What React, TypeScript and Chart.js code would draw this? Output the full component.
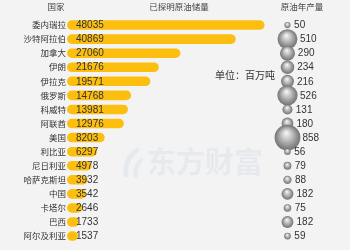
import React, { useEffect, useRef } from "react";
import { Chart, registerables } from "chart.js";

Chart.register(...registerables);

const countries = ["委内瑞拉", "沙特阿拉伯", "加拿大", "伊朗", "伊拉克", "俄罗斯", "科威特", "阿联酋", "美国", "利比亚", "尼日利亚", "哈萨克斯坦", "中国", "卡塔尔", "巴西", "阿尔及利亚"];
const reserves = [48035, 40869, 27060, 21676, 19571, 14768, 13981, 12976, 8203, 6297, 4978, 3932, 3542, 2646, 1733, 1537];
const production = [50, 510, 290, 234, 216, 526, 131, 180, 858, 56, 79, 88, 182, 75, 182, 59];

const headerCountry = "国家";
const headerReserves = "已探明原油储量";
const headerProduction = "原油年产量";
const unitText = "单位：百万吨";
const watermark = "东方财富";

const CJK = '"Noto Sans CJK SC", "Noto Sans", sans-serif';
const NUM = '"Liberation Sans", Arial, sans-serif';

const radiusOf = (v: number) => 0.44 * Math.sqrt(v);

export default function App() {
  const ref = useRef<HTMLCanvasElement | null>(null);

  useEffect(() => {
    const canvas = ref.current;
    if (!canvas) return;

    const bgPlugin = {
      id: "bg",
      beforeDraw(chart: any) {
        const { ctx, width, height } = chart;
        ctx.save();
        ctx.fillStyle = "#f3f3f3";
        ctx.fillRect(0, 0, width, height);
        ctx.restore();
      },
      beforeDatasetsDraw(chart: any) {
        const { ctx } = chart;
        ctx.save();
        ctx.fillStyle = "#e6eaee";
        ctx.strokeStyle = "#e6eaee";
        // simple logo swoosh
        ctx.lineCap = "round";
        ctx.lineWidth = 5;
        ctx.beginPath();
        ctx.moveTo(137, 150);
        ctx.quadraticCurveTo(124, 160, 126, 175);
        ctx.stroke();
        ctx.lineWidth = 4;
        ctx.beginPath();
        ctx.moveTo(141, 160);
        ctx.quadraticCurveTo(134, 168, 136, 176);
        ctx.stroke();
        ctx.font = `bold 29px ${CJK}`;
        ctx.textAlign = "left";
        ctx.textBaseline = "middle";
        ctx.fillText(watermark, 147, 162);
        ctx.restore();
      },
      afterDatasetsDraw(chart: any) {
        const { ctx, chartArea } = chart;
        ctx.save();
        ctx.textBaseline = "middle";
        const barMeta = chart.getDatasetMeta(0);
        ctx.fillStyle = "#333333";
        ctx.font = `10px ${NUM}`;
        ctx.textAlign = "left";
        barMeta.data.forEach((el: any, i: number) => {
          ctx.fillText(String(reserves[i]), chartArea.left + 9, el.y + 0.5);
        });
        const bubMeta = chart.getDatasetMeta(1);
        bubMeta.data.forEach((el: any, i: number) => {
          const r = radiusOf(production[i]);
          ctx.fillText(String(production[i]), el.x + 4 + 0.85 * r, el.y + 0.5);
        });
        ctx.fillStyle = "#444444";
        ctx.font = `8.5px ${CJK}`;
        ctx.textAlign = "center";
        ctx.fillText(headerCountry, 56, 7);
        ctx.fillText(headerReserves, 179, 7);
        ctx.fillText(headerProduction, 302, 7);
        ctx.fillStyle = "#333333";
        ctx.font = `10px ${CJK}`;
        ctx.fillText(unitText, 245, 75);
        ctx.restore();
      },
    };

    const bubbleFill = (c: any) => {
      const chart = c.chart;
      const xs = chart.scales.x2;
      const ys = chart.scales.y;
      if (!xs || !ys || c.dataIndex === undefined) return "#aaaaaa";
      const cx = xs.getPixelForValue(0);
      const cy = ys.getPixelForValue(c.dataIndex);
      const r = radiusOf(production[c.dataIndex]);
      if (!isFinite(cx) || !isFinite(cy)) return "#aaaaaa";
      const g = chart.ctx.createRadialGradient(cx - 0.1 * r, cy - 0.4 * r, 0, cx, cy, r);
      g.addColorStop(0, "#fafafa");
      g.addColorStop(0.45, "#bdbdbd");
      g.addColorStop(0.85, "#858585");
      g.addColorStop(1, "#747474");
      return g;
    };

    const chart = new Chart(canvas, {
      type: "bar",
      data: {
        labels: countries,
        datasets: [
          {
            type: "bar",
            data: reserves,
            base: -1200,
            backgroundColor: "#fdbf0f",
            borderRadius: 5,
            borderSkipped: false,
            barPercentage: 0.68,
            categoryPercentage: 1,
            xAxisID: "x",
            yAxisID: "y",
          } as any,
          {
            type: "bubble",
            data: countries.map((c, i) => ({ x: 0, y: c, r: radiusOf(production[i]) })),
            backgroundColor: bubbleFill,
            borderWidth: 0,
            xAxisID: "x2",
            yAxisID: "y",
            clip: false,
          } as any,
        ],
      },
      options: {
        indexAxis: "y",
        animation: false,
        responsive: false,
        maintainAspectRatio: false,
        layout: { padding: { top: 18, bottom: 3, left: 0, right: 0 } },
        plugins: { legend: { display: false }, tooltip: { enabled: false } },
        scales: {
          y: {
            type: "category",
            labels: countries,
            offset: true,
            grid: { display: false, drawTicks: false },
            border: { display: false },
            ticks: {
              color: "#333333",
              font: { family: CJK, size: 8.5 },
              padding: 1,
              autoSkip: false,
            },
            afterFit: (s: any) => {
              s.width = 67;
            },
          },
          x: {
            type: "linear",
            display: false,
            min: -1200,
            max: 66100,
          },
          x2: {
            type: "linear",
            display: false,
            min: -231,
            max: 52,
          },
        },
      } as any,
      plugins: [bgPlugin],
    });

    return () => chart.destroy();
  }, []);

  return (
    <div style={{ position: "absolute", left: 0, top: 0, width: 350, height: 256, background: "#f3f3f3" }}>
      <canvas ref={ref} width={350} height={256} style={{ display: "block" }} />
    </div>
  );
}
